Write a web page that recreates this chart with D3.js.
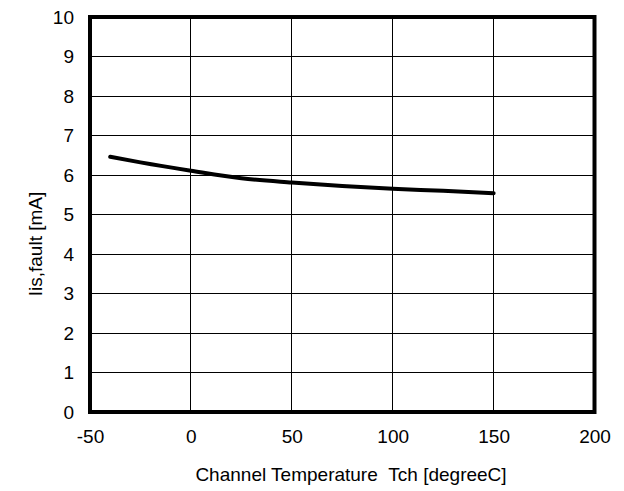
<!DOCTYPE html>
<html><head><meta charset="utf-8">
<script src="https://cdn.jsdelivr.net/npm/d3@7"></script>
<style>body{margin:0;background:#fff}text{font-family:"Liberation Sans",Arial,sans-serif;fill:#000}</style>
</head><body><svg id="c" width="624" height="491"></svg>
<script>
const temps = [-40, -25, 0, 25, 50, 75, 100, 125, 150];
const current = [6.46, 6.32, 6.11, 5.92, 5.81, 5.72, 5.65, 5.60, 5.54];
const xTicks = [-50, 0, 50, 100, 150, 200];
const yTicks = [0, 1, 2, 3, 4, 5, 6, 7, 8, 9, 10];
const xTitle = "Channel Temperature\u00a0\u00a0Tch [degreeC]";
const yTitle = "Iis,fault [mA]";

const svg = d3.select("#c");
const x = d3.scaleLinear().domain([-50, 200]).range([90, 594.5]);
const y = d3.scaleLinear().domain([0, 10]).range([412, 17]);
const FF = '"Liberation Sans",Arial,sans-serif';

// grid
svg.append("g").selectAll("line").data(xTicks.slice(1, -1)).join("line")
  .attr("x1", d => x(d)).attr("x2", d => x(d)).attr("y1", y(10)).attr("y2", y(0))
  .attr("stroke", "#000").attr("stroke-width", 1).attr("shape-rendering", "crispEdges");
svg.append("g").selectAll("line").data(yTicks.slice(1, -1)).join("line")
  .attr("x1", x(-50)).attr("x2", x(200)).attr("y1", d => y(d)).attr("y2", d => y(d))
  .attr("stroke", "#000").attr("stroke-width", 1).attr("shape-rendering", "crispEdges");

// data line
const line = d3.line().x(d => x(d[0])).y(d => y(d[1])).curve(d3.curveMonotoneX);
svg.append("path").datum(temps.map((t, i) => [t, current[i]]))
  .attr("d", line).attr("fill", "none").attr("stroke", "#000").attr("stroke-width", 4)
  .attr("stroke-linecap", "round");

// frame
svg.append("rect").attr("x", x(-50)).attr("y", y(10))
  .attr("width", x(200) - x(-50)).attr("height", y(0) - y(10))
  .attr("fill", "none").attr("stroke", "#000").attr("stroke-width", 4);

// axes labels
const xAxis = d3.axisBottom(x).tickValues(xTicks).tickSize(0).tickPadding(18).tickFormat(d => String(d));
const gx = svg.append("g").attr("transform", `translate(0,${y(0)})`).call(xAxis);
gx.select(".domain").remove();
gx.selectAll("text").attr("font-size", 19).style("font-family", FF).attr("fill", "#000");

const yAxis = d3.axisLeft(y).tickValues(yTicks).tickSize(0).tickPadding(16).tickFormat(d => String(d));
const gy = svg.append("g").attr("transform", `translate(${x(-50)},0)`).call(yAxis);
gy.select(".domain").remove();
gy.selectAll("text").attr("font-size", 19).style("font-family", FF).attr("fill", "#000");

svg.append("text").attr("x", 351).attr("y", 481).attr("text-anchor", "middle")
  .attr("font-size", 19).text(xTitle);
svg.append("text").attr("transform", "translate(42,244) rotate(-90)").attr("text-anchor", "middle")
  .attr("font-size", 19).text(yTitle);
</script></body></html>
